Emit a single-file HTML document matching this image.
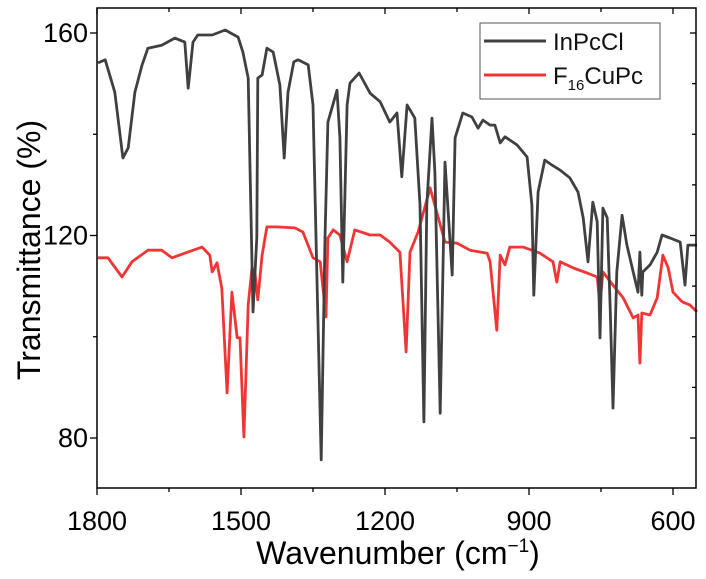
<!DOCTYPE html>
<html><head><meta charset="utf-8"><style>
html,body{margin:0;padding:0;background:#fff;}
svg{display:block;font-family:"Liberation Sans",Arial,sans-serif;}
</style></head><body>
<svg id="chart" width="706" height="579" viewBox="0 0 706 579">
<g id="series"></g>
<rect x="97" y="8" width="599" height="480" fill="none" stroke="#000" stroke-width="1.5"/>
<g id="axes"></g>
<text x="0" y="0" transform="translate(40,250) rotate(-90)" text-anchor="middle" font-size="32">Transmittance (%)</text>
<text x="398" y="564" text-anchor="middle" font-size="32">Wavenumber (cm<tspan font-size="19" dy="-12">−1</tspan><tspan dy="12">)</tspan></text>
<g>
<rect x="480" y="23" width="180" height="76" fill="#fff" stroke="#555" stroke-width="1"/>
<line x1="484" y1="41" x2="546" y2="41" stroke="#404040" stroke-width="3"/>
<text x="553" y="50" font-size="24" fill="#111">InPcCl</text>
<line x1="484" y1="75" x2="546" y2="75" stroke="#f03535" stroke-width="3"/>
<text x="553" y="84" font-size="24" fill="#111">F<tspan font-size="15" dy="6">16</tspan><tspan dy="-6">CuPc</tspan></text>
</g>
</svg>
<script>
const grayWn=[1798,1783,1763,1746,1735,1721,1706,1694,1665,1638,1617,1610,1600,1590,1560,1533,1506,1496,1485,1481,1475,1467,1465,1456,1446,1433,1419,1410,1402,1390,1381,1360,1350,1342,1333,1325,1319,1300,1294,1288,1279,1273,1254,1231,1210,1190,1175,1165,1154,1138,1127,1119,1113,1102,1096,1085,1075,1060,1054,1038,1019,1006,996,981,971,960,950,925,904,894,890,881,867,852,835,815,798,787,777,767,758,752,746,737,731,725,717,706,696,683,673,669,665,663,648,633,623,606,585,575,569,550];
const grayT=[154.1,154.7,148.3,135.3,137.3,148.3,153.7,157.0,157.6,159.0,158.2,149.1,158.2,159.6,159.6,160.6,159.2,156.2,151.1,132.5,104.9,119.5,151.1,151.7,157.0,156.2,149.7,135.3,148.3,154.3,154.7,153.7,145.8,112.8,75.7,119.5,142.4,148.7,139.3,110.8,145.8,150.1,152.1,148.1,146.4,142.4,144.2,131.6,145.8,143.2,126.0,83.2,126.0,143.2,132.5,84.9,134.5,112.2,139.3,144.2,143.4,141.2,142.8,141.8,141.8,138.3,139.5,137.9,135.5,126.0,108.2,128.6,134.9,133.9,132.9,131.4,128.6,123.5,114.8,126.6,122.7,99.8,125.4,123.5,106.3,85.9,112.8,124.0,118.1,112.8,108.8,116.7,108.2,112.8,114.2,116.7,120.1,119.5,118.7,110.2,118.1,118.1];
const redWn=[1798,1777,1748,1727,1694,1665,1644,1617,1581,1565,1560,1550,1540,1529,1519,1508,1502,1494,1485,1477,1471,1465,1456,1446,1425,1388,1371,1350,1335,1323,1319,1308,1294,1279,1263,1231,1210,1190,1169,1156,1148,1131,1106,1092,1075,1050,1023,987,981,967,960,950,940,912,877,850,842,835,808,779,758,752,746,725,704,683,673,669,665,648,633,621,610,600,581,565,550];
const redT=[115.6,115.6,111.8,114.8,117.1,117.1,115.6,116.5,117.7,116.1,112.8,114.6,109.6,88.9,108.8,99.8,99.8,80.2,106.3,113.6,112.8,107.3,116.1,121.7,121.7,121.5,120.7,115.6,114.8,103.9,119.5,121.1,120.1,114.8,121.1,120.1,120.1,118.7,116.7,97.0,116.7,120.7,129.4,124.6,118.7,118.5,117.1,116.5,114.8,101.3,116.1,114.2,117.7,117.7,116.5,114.8,110.8,114.8,113.6,112.6,111.8,106.3,112.8,110.2,107.7,103.7,104.3,94.8,104.7,104.3,107.7,116.1,113.6,108.8,106.9,106.3,104.9];
const xTicks=[1800,1500,1200,900,600];
const xMinor=[1650,1350,1050,750];
const yTicks=[160,120,80];
const yMinor=[140,100];

const NS="http://www.w3.org/2000/svg";
function xs(w){return 97+(1800-w)*0.48;}
function ys(v){return 33+(160-v)*5.0625;}
const sg=document.getElementById('series');
function addLine(wn,t,color,name){
  const p=document.createElementNS(NS,'polyline');
  p.setAttribute('points',wn.map((w,i)=>xs(w).toFixed(1)+','+ys(t[i]).toFixed(1)).join(' '));
  p.setAttribute('fill','none');p.setAttribute('stroke',color);
  p.setAttribute('stroke-width','2.8');p.setAttribute('stroke-linejoin','round');
  
  
  sg.appendChild(p);
}
addLine(redWn,redT,'#f03535','f16cupc-line');
addLine(grayWn,grayT,'#404040','inpccl-line');

const ag=document.getElementById('axes');
function ln(x1,y1,x2,y2,name){
  const l=document.createElementNS(NS,'line');
  l.setAttribute('x1',x1);l.setAttribute('y1',y1);l.setAttribute('x2',x2);l.setAttribute('y2',y2);
  l.setAttribute('stroke','#000');l.setAttribute('stroke-width','1.3');
  
  
  ag.appendChild(l);
}
function tx(x,y,s,anchor,name){
  const t=document.createElementNS(NS,'text');
  t.setAttribute('x',x);t.setAttribute('y',y);t.setAttribute('text-anchor',anchor);
  t.setAttribute('font-size','27');t.textContent=s;
  
  
  ag.appendChild(t);
}
xTicks.forEach(w=>{const x=xs(w);
  ln(x,488,x,495,'x-tick');ln(x,8,x,14,'x-top-tick');
  tx(x,530,String(w),'middle','x-tick-label');});
xMinor.forEach(w=>{const x=xs(w);ln(x,488,x,492,'x-minor-tick');ln(x,8,x,12,'x-top-minor-tick');});
yTicks.forEach(v=>{const y=ys(v);
  ln(90,y,97,y,'y-tick');ln(690,y,696,y,'y-right-tick');
  tx(88,y+9,String(v),'end','y-tick-label');});
yMinor.forEach(v=>{const y=ys(v);ln(93,y,97,y,'y-minor-tick');ln(692,y,696,y,'y-right-minor-tick');});
[150,130,110,90].forEach(v=>{const y=ys(v);ln(692,y,696,y,'y-right-minor-tick');});
</script>
</body></html>
